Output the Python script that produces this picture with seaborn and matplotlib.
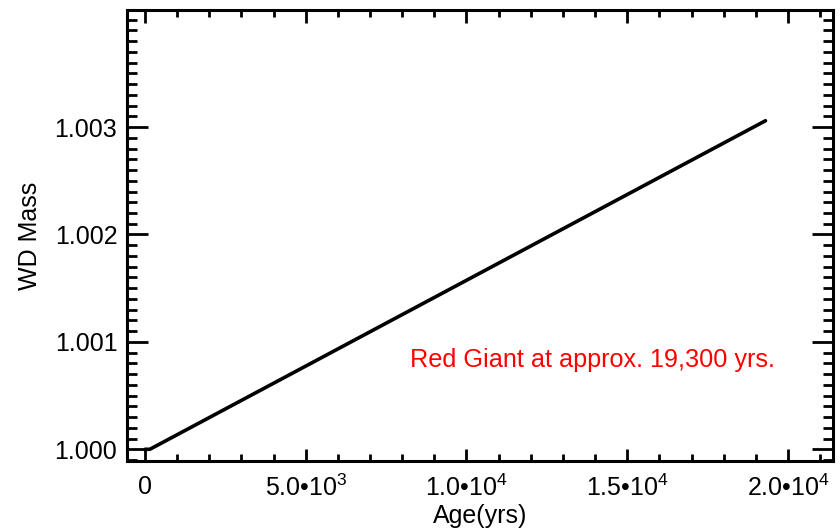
import numpy as np
import pandas as pd
import matplotlib
matplotlib.use("Agg")
import matplotlib.pyplot as plt
import seaborn as sns
from matplotlib.ticker import MultipleLocator, FixedLocator, FixedFormatter

# Data
age_yrs = [0, 150, 19300]
wd_mass = [1.00000, 1.00000, 1.003059]

x_ticks = [0, 5000, 10000, 15000, 20000]
x_tick_labels = ["0", "5.0•10$^{3}$", "1.0•10$^{4}$", "1.5•10$^{4}$", "2.0•10$^{4}$"]
y_ticks = [1.000, 1.001, 1.002, 1.003]
y_tick_labels = ["1.000", "1.001", "1.002", "1.003"]
note_text = "Red Giant at approx. 19,300 yrs."

sns.set_style("ticks")
plt.rcParams["font.family"] = ["Liberation Sans", "DejaVu Sans"]
plt.rcParams["mathtext.fontset"] = "custom"
plt.rcParams["mathtext.rm"] = "Liberation Sans"
plt.rcParams["mathtext.it"] = "Liberation Sans"
plt.rcParams["text.color"] = "black"
plt.rcParams["axes.labelcolor"] = "black"

fig = plt.figure(figsize=(8.4, 5.28), dpi=100)
ax = fig.add_axes([127/840, 1 - 461/528, (833-127)/840, (461-10)/528])

df = pd.DataFrame({"Age": age_yrs, "Mass": wd_mass})
sns.lineplot(data=df, x="Age", y="Mass", ax=ax, color="black", linewidth=2.6,
             estimator=None, sort=False)

ax.set_xlim(-560, 21400)
ax.set_ylim(0.999891, 1.00409)

ax.xaxis.set_major_locator(FixedLocator(x_ticks))
ax.xaxis.set_major_formatter(FixedFormatter(x_tick_labels))
ax.xaxis.set_minor_locator(MultipleLocator(1000))
ax.yaxis.set_major_locator(FixedLocator(y_ticks))
ax.yaxis.set_major_formatter(FixedFormatter(y_tick_labels))
ax.yaxis.set_minor_locator(MultipleLocator(0.0001))

ax.tick_params(axis="both", which="both", direction="in", top=True, right=True,
               width=2, colors="black", labelcolor="black", labelsize=18)
ax.tick_params(axis="x", which="major", length=9, pad=10)
ax.tick_params(axis="x", which="minor", length=5)
ax.tick_params(axis="y", which="major", length=15, pad=7)
ax.tick_params(axis="y", which="minor", length=7)

for sp in ax.spines.values():
    sp.set_linewidth(2.2)
    sp.set_color("black")

ax.set_xlabel("Age(yrs)", fontsize=18, labelpad=2, color="black")
ax.set_ylabel("WD Mass", fontsize=18, labelpad=9, color="black")

ax.text(13903, 1.000831, note_text, color="red", fontsize=18.2,
        ha="center", va="center")

fig.savefig("out.png", dpi=100)
